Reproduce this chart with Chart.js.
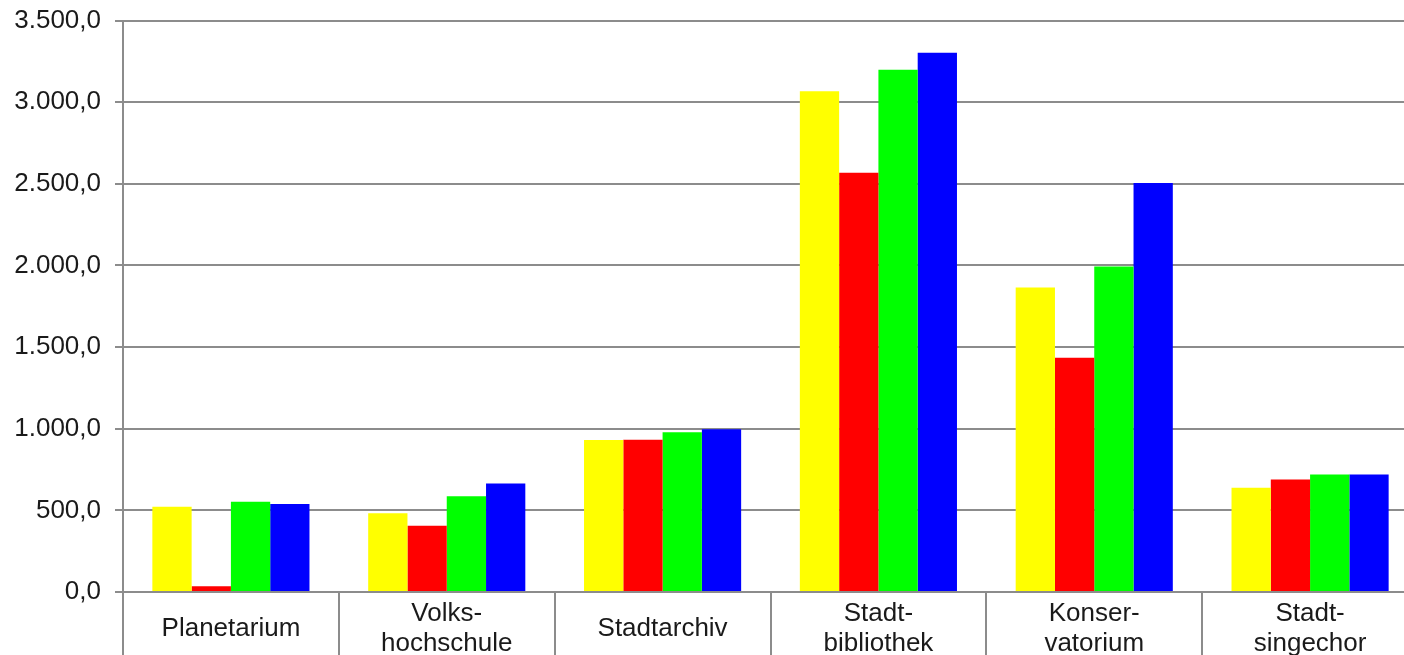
<!DOCTYPE html>
<html>
<head>
<meta charset="utf-8">
<script src="https://cdn.jsdelivr.net/npm/chart.js@4"></script>
<style>
html, body { margin: 0; padding: 0; background: #ffffff; overflow: hidden; }
#wrap { position: absolute; left: 0; top: 0; width: 1419px; height: 655px; }
</style>
</head>
<body>
<div id="wrap"><canvas id="c"></canvas></div>
<script>
const categories = [
  ['Planetarium'],
  ['Volks-', 'hochschule'],
  ['Stadtarchiv'],
  ['Stadt-', 'bibliothek'],
  ['Konser-', 'vatorium'],
  ['Stadt-', 'singechor']
];
const seriesNames = ['Reihe 1', 'Reihe 2', 'Reihe 3', 'Reihe 4'];
const series1 = [522, 482, 931, 3067, 1865, 639];
const series2 = [35, 406, 933, 2567, 1435, 689];
const series3 = [553, 586, 978, 3199, 1994, 719];
const series4 = [539, 664, 996, 3303, 2505, 719];
const seriesColors = ['#ffff00', '#ff0000', '#00ff00', '#0000ff'];
const yMin = 0, yMax = 3500, yStep = 500;

function fmtDE(v) {
  const parts = v.toFixed(1).split('.');
  const intPart = parts[0].replace(/\B(?=(\d{3})+(?!\d))/g, '.');
  return intPart + ',' + parts[1];
}

const allSeries = [series1, series2, series3, series4];
const gridColor = '#8c8c8c';
const font = { family: '"Liberation Sans", Arial, sans-serif', size: 26, lineHeight: 1.15 };

new Chart(document.getElementById('c'), {
  type: 'bar',
  data: {
    labels: categories,
    datasets: allSeries.map((d, i) => ({
      label: seriesNames[i],
      data: d,
      backgroundColor: seriesColors[i],
      borderWidth: 0,
      categoryPercentage: 0.728,
      barPercentage: 1.0
    }))
  },
  options: {
    responsive: true,
    maintainAspectRatio: false,
    animation: false,
    layout: { padding: { top: 20.5, right: 1, left: 0, bottom: 0 } },
    plugins: { legend: { display: false }, tooltip: { enabled: false } },
    scales: {
      x: {
        offset: true,
        grid: {
          offset: true,
          drawOnChartArea: false,
          drawTicks: true,
          tickLength: 63,
          color: gridColor,
          lineWidth: 2
        },
        border: { display: true, color: gridColor, width: 2 },
        ticks: {
          color: '#1a1a1a',
          font: font,
          padding: -41,
          crossAlign: 'center',
          maxRotation: 0,
          autoSkip: false
        },
        afterFit: (s) => { s.height = 63; s.paddingLeft = 0; s.paddingRight = 0; }
      },
      y: {
        min: yMin,
        max: yMax,
        ticks: {
          stepSize: yStep,
          color: '#1a1a1a',
          font: font,
          padding: 14,
          callback: (v) => fmtDE(v)
        },
        grid: {
          color: gridColor,
          lineWidth: 2,
          drawTicks: true,
          tickLength: 8
        },
        border: { display: true, color: gridColor, width: 2 },
        afterFit: (s) => { s.width = 123; s.paddingTop = 0; s.paddingBottom = 0; }
      }
    }
  }
});
</script>
</body>
</html>
